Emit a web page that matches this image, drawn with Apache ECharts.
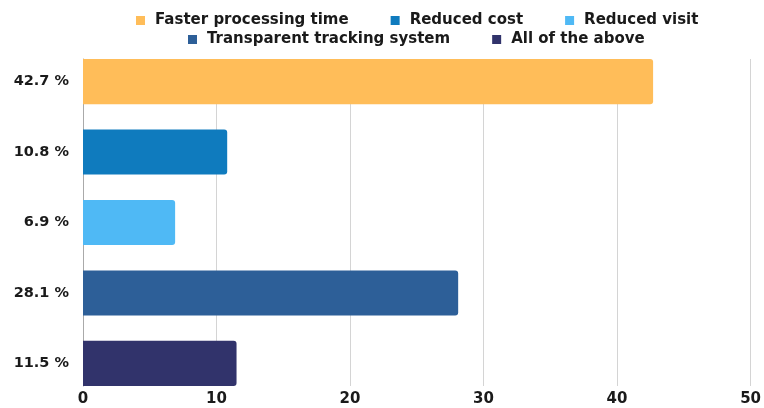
<!DOCTYPE html>
<html>
<head>
<meta charset="utf-8">
<script src="https://cdn.jsdelivr.net/npm/echarts@6/dist/echarts.min.js"></script>
<style>
  html, body { margin: 0; padding: 0; background: #fff; }
  #chart { width: 764px; height: 408px; }
</style>
</head>
<body>
<div id="chart"></div>
<script>
var categories = ['Faster processing time', 'Reduced cost', 'Reduced visit', 'Transparent tracking system', 'All of the above'];
var values = [42.7, 10.8, 6.9, 28.1, 11.5];
var colors = ['#FFBD59', '#0F7BBE', '#4FB9F5', '#2D5F98', '#31336B'];
var xTicks = { min: 0, max: 50, interval: 10 };

var chart = echarts.init(document.getElementById('chart'));

var font = 'DejaVu Sans';

var series = categories.map(function (name, i) {
  return {
    name: name,
    type: 'bar',
    data: [values[i]],
    barGap: '56%',
    barCategoryGap: '0%',
    itemStyle: { color: colors[i], borderRadius: [0, 3, 3, 0] },
    label: {
      show: true,
      position: 'left',
      distance: 14,
      formatter: function (p) { return p.value + ' %'; },
      fontFamily: font,
      fontWeight: 'bold',
      fontSize: 14.5,
      color: '#1a1a1a'
    }
  };
});

var legendText = {
  fontFamily: font,
  fontWeight: 'bold',
  fontSize: 15,
  color: '#1a1a1a',
  padding: [0, 0, 0, 5]
};

var option = {
  backgroundColor: '#fff',
  animation: false,
  legend: [
    {
      data: categories.slice(0, 3),
      top: 8,
      left: 131,
      icon: 'rect',
      itemWidth: 9,
      itemHeight: 9,
      itemGap: 42,
      textStyle: legendText
    },
    {
      data: categories.slice(3),
      top: 27,
      left: 183,
      icon: 'rect',
      itemWidth: 9,
      itemHeight: 9,
      itemGap: 42,
      textStyle: legendText
    }
  ],
  grid: { left: 83, right: 5, top: 59, bottom: 22 },
  xAxis: {
    type: 'value',
    min: xTicks.min,
    max: xTicks.max,
    interval: xTicks.interval,
    axisLine: { show: false },
    axisTick: { show: false },
    splitLine: { lineStyle: { color: '#d4d4d4', width: 1 } },
    axisLabel: {
      margin: 6,
      fontFamily: font,
      fontWeight: 'bold',
      fontSize: 15,
      color: '#1a1a1a'
    }
  },
  yAxis: {
    type: 'category',
    inverse: true,
    data: [''],
    axisLine: { show: true, lineStyle: { color: '#aaa' } },
    axisTick: { show: false },
    axisLabel: { show: false }
  },
  series: series
};

chart.setOption(option);
</script>
</body>
</html>
